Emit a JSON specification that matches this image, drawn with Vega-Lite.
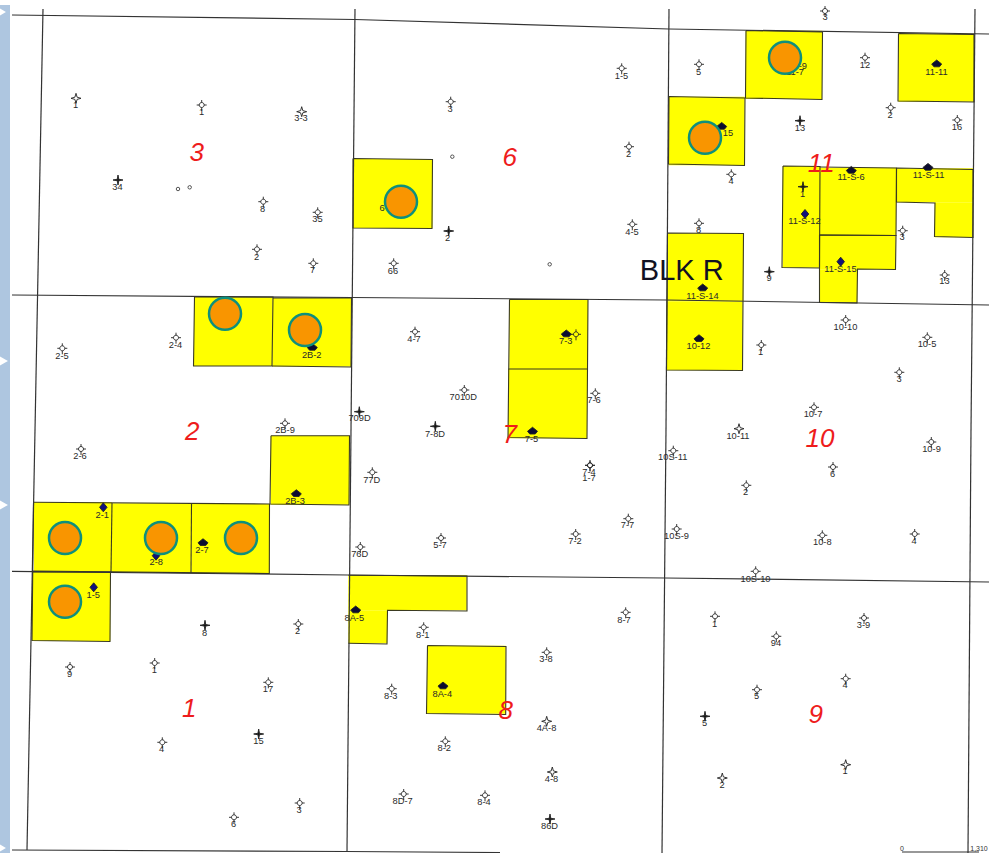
{
"$schema":"https://vega.github.io/schema/vega-lite/v6.json",
"width":994,"height":853,"padding":0,"autosize":{"type":"none"},
"background":"white",
"config":{"view":{"stroke":null},"axis":{"disable":true}},
"datasets":{
"fills":[
{"x":353,"y":159,"x2":432.5,"y2":228},{"x":194,"y":297,"x2":272.5,"y2":366},{"x":272.5,"y":298,"x2":351,"y2":366.5},
{"x":745.7,"y":30.7,"x2":822,"y2":99},{"x":898.3,"y":33.7,"x2":974,"y2":101.7},{"x":668.7,"y":96.7,"x2":744.7,"y2":165.3},
{"x":782.7,"y":166,"x2":820,"y2":267.7},{"x":820,"y":167.7,"x2":896,"y2":235.3},{"x":819.3,"y":235,"x2":895.7,"y2":269.3},{"x":819.3,"y":269.3,"x2":857.3,"y2":302.7},
{"x":896.7,"y":168.3,"x2":973,"y2":202.3},{"x":934.7,"y":202.3,"x2":973,"y2":237.3},
{"x":667,"y":233.3,"x2":743.3,"y2":301.7},{"x":666.7,"y":301.7,"x2":742.7,"y2":370.3},
{"x":509.3,"y":299.3,"x2":588,"y2":369},{"x":508,"y":369,"x2":587,"y2":438.3},
{"x":270.7,"y":435.7,"x2":349.3,"y2":504.7},{"x":34,"y":502.3,"x2":112,"y2":571.3},{"x":112,"y":503.3,"x2":191.3,"y2":572.7},{"x":191.3,"y":504,"x2":269.3,"y2":573.3},
{"x":32,"y":572,"x2":110.3,"y2":641},{"x":348.3,"y":575.3,"x2":466.7,"y2":610.3},{"x":348.3,"y":610.3,"x2":387.3,"y2":643.3},{"x":427,"y":645.7,"x2":505.7,"y2":713.7}
],
"outlines":[
{"s":"a","o":1,"x":353,"y":158.5},{"s":"a","o":2,"x":432.5,"y":159.5},{"s":"a","o":3,"x":432,"y":228.5},{"s":"a","o":4,"x":353,"y":228},{"s":"a","o":5,"x":353,"y":158.5},
{"s":"b","o":1,"x":194.5,"y":297},{"s":"b","o":2,"x":273,"y":297},{"s":"b","o":3,"x":272,"y":366},{"s":"b","o":4,"x":193.5,"y":366},{"s":"b","o":5,"x":194.5,"y":297},
{"s":"c","o":1,"x":273,"y":298},{"s":"c","o":2,"x":351.5,"y":298},{"s":"c","o":3,"x":351,"y":367},{"s":"c","o":4,"x":272,"y":366},
{"s":"d","o":1,"x":746,"y":30.5},{"s":"d","o":2,"x":822.5,"y":32},{"s":"d","o":3,"x":822,"y":99.5},{"s":"d","o":4,"x":745.5,"y":98},{"s":"d","o":5,"x":746,"y":30.5},
{"s":"e","o":1,"x":898.5,"y":33.5},{"s":"e","o":2,"x":974,"y":34.5},{"s":"e","o":3,"x":974,"y":102},{"s":"e","o":4,"x":898,"y":101},{"s":"e","o":5,"x":898.5,"y":33.5},
{"s":"f","o":1,"x":669,"y":96.5},{"s":"f","o":2,"x":745,"y":98},{"s":"f","o":3,"x":744.5,"y":165.5},{"s":"f","o":4,"x":668.5,"y":164},{"s":"f","o":5,"x":669,"y":96.5},
{"s":"g","o":1,"x":783,"y":166},{"s":"g","o":2,"x":820,"y":166.5},{"s":"g","o":3,"x":819.5,"y":268},{"s":"g","o":4,"x":782,"y":267.5},{"s":"g","o":5,"x":783,"y":166},
{"s":"h","o":1,"x":820,"y":167},{"s":"h","o":2,"x":896.5,"y":168},{"s":"h","o":3,"x":896,"y":235.5},{"s":"h","o":4,"x":819.5,"y":235},
{"s":"i","o":1,"x":819.5,"y":235},{"s":"i","o":2,"x":896,"y":235.5},{"s":"i","o":3,"x":895.5,"y":269.5},{"s":"i","o":4,"x":857.5,"y":269},{"s":"i","o":5,"x":857,"y":303},{"s":"i","o":6,"x":819.5,"y":302.5},{"s":"i","o":7,"x":819.5,"y":235},
{"s":"j","o":1,"x":896.5,"y":168},{"s":"j","o":2,"x":973,"y":169.5},{"s":"j","o":3,"x":973,"y":237.5},{"s":"j","o":4,"x":934.5,"y":236.5},{"s":"j","o":5,"x":935,"y":203},{"s":"j","o":6,"x":896.5,"y":202},{"s":"j","o":7,"x":896.5,"y":168},
{"s":"k","o":1,"x":667.5,"y":233},{"s":"k","o":2,"x":743.5,"y":233.5},{"s":"k","o":3,"x":742.5,"y":370.5},{"s":"k","o":4,"x":666.5,"y":370},{"s":"k","o":5,"x":667.5,"y":233},
{"s":"m","o":1,"x":509.5,"y":299.5},{"s":"m","o":2,"x":588,"y":299.5},{"s":"m","o":3,"x":587,"y":438.5},{"s":"m","o":4,"x":508,"y":437.5},{"s":"m","o":5,"x":509.5,"y":299.5},
{"s":"n","o":1,"x":508.5,"y":369},{"s":"n","o":2,"x":587.5,"y":369},
{"s":"p","o":1,"x":271,"y":435.7},{"s":"p","o":2,"x":349.5,"y":435.7},{"s":"p","o":3,"x":349,"y":505},{"s":"p","o":4,"x":270,"y":504},{"s":"p","o":5,"x":271,"y":435.7},
{"s":"q","o":1,"x":34,"y":502.3},{"s":"q","o":2,"x":269.5,"y":504},{"s":"q","o":3,"x":269.3,"y":573.5},{"s":"q","o":4,"x":32,"y":571},
{"s":"q2","o":1,"x":112,"y":503},{"s":"q2","o":2,"x":111,"y":572},{"s":"q3","o":1,"x":191.5,"y":504},{"s":"q3","o":2,"x":191,"y":573},
{"s":"r","o":1,"x":32.5,"y":572},{"s":"r","o":2,"x":110.5,"y":572},{"s":"r","o":3,"x":110,"y":641.5},{"s":"r","o":4,"x":32,"y":640.5},{"s":"r","o":5,"x":33.5,"y":502.5},
{"s":"t","o":1,"x":348.5,"y":575.3},{"s":"t","o":2,"x":467,"y":576},{"s":"t","o":3,"x":467,"y":611},{"s":"t","o":4,"x":387.5,"y":610.3},{"s":"t","o":5,"x":387,"y":644},{"s":"t","o":6,"x":348.3,"y":643.3},
{"s":"u","o":1,"x":427.5,"y":645.5},{"s":"u","o":2,"x":506,"y":646.5},{"s":"u","o":3,"x":505.7,"y":714.5},{"s":"u","o":4,"x":426.5,"y":713.5},{"s":"u","o":5,"x":427.5,"y":645.5}
],
"gridlines":[
{"x":12,"y":15,"x2":355,"y2":19.5},{"x":355,"y":19.5,"x2":669,"y2":29},{"x":669,"y":29,"x2":989,"y2":34},
{"x":12,"y":295,"x2":352,"y2":297.5},{"x":352,"y":297.5,"x2":666,"y2":300},{"x":666,"y":300,"x2":989,"y2":305},
{"x":12,"y":571.3,"x2":348,"y2":575},{"x":348,"y":575,"x2":665,"y2":578},{"x":665,"y":578,"x2":989,"y2":582},
{"x":12,"y":850,"x2":347,"y2":851.5},{"x":347,"y":851.5,"x2":500,"y2":852.5},
{"x":43,"y":9,"x2":35,"y2":430},{"x":35,"y":430,"x2":27,"y2":850},
{"x":355,"y":9,"x2":351,"y2":430},{"x":351,"y":430,"x2":347,"y2":851},
{"x":669,"y":9,"x2":666,"y2":430},{"x":666,"y":430,"x2":662,"y2":853},
{"x":975,"y":9,"x2":971,"y2":430},{"x":971,"y":430,"x2":968,"y2":853},
{"x":902,"y":852,"x2":979,"y2":852}
],
"tiny":[{"x":178,"y":189},{"x":189.7,"y":187.3},{"x":452.3,"y":156.7},{"x":549.7,"y":264.3}],
"band":[{"x":0,"x2":10,"y":5,"y2":853}],
"notches":[{"x":3,"y":361},{"x":3,"y":505},{"x":1,"y":12},{"x":1,"y":848}],
"circles":[
{"x":225,"y":313.7},{"x":401,"y":201.7},{"x":305,"y":330},{"x":785,"y":57.7},{"x":705,"y":137.7},
{"x":65,"y":538},{"x":161,"y":538},{"x":241,"y":538},{"x":65,"y":601.7}
],
"sections":[
{"x":196.7,"y":153.3,"t":"3"},{"x":509.7,"y":158.3,"t":"6"},{"x":821.3,"y":163.7,"t":"11"},{"x":192.3,"y":432,"t":"2"},{"x":509.7,"y":434.7,"t":"7"},
{"x":820,"y":438.7,"t":"10"},{"x":189.3,"y":709,"t":"1"},{"x":505.7,"y":711.3,"t":"8"},{"x":815.7,"y":715.3,"t":"9"}
],
"block":[{"x":681.7,"y":270.7,"t":"BLK R"}],
"scale":[{"x":902,"y":848.5,"t":"0"},{"x":979,"y":848.5,"t":"1,310"}],
"wells":[
{"k":"star","x":76,"y":98.3,"t":"1","lx":75.5,"ly":105},
{"k":"open","x":201.7,"y":105,"t":"1","lx":201.5,"ly":112},
{"k":"star","x":301.7,"y":111.7,"t":"3-3","lx":301,"ly":118},
{"k":"plus","x":118,"y":180,"t":"34","lx":117.5,"ly":186.7},
{"k":"open","x":263.3,"y":201.7,"t":"8","lx":262.5,"ly":208.5},
{"k":"open","x":317.7,"y":212.3,"t":"35","lx":317.5,"ly":219},
{"k":"open","x":257,"y":249.3,"t":"2","lx":256.5,"ly":256.5},
{"k":"open","x":313.3,"y":263.3,"t":"7","lx":312.5,"ly":270},
{"k":"open","x":450.7,"y":101.7,"t":"3","lx":450,"ly":109},
{"k":"plus","x":448.7,"y":231,"t":"2","lx":447.5,"ly":238},
{"k":"open","x":393.7,"y":263.3,"t":"66","lx":393,"ly":270.5},
{"k":"open","x":401,"y":201,"t":"6","lx":382,"ly":208.3},
{"k":"open","x":785,"y":58,"t":"11-9","lx":798,"ly":66},
{"k":"open","x":785,"y":58,"t":"11-7","lx":795,"ly":71.7},
{"k":"open","x":621.7,"y":68.3,"t":"1-5","lx":621.5,"ly":75.7},
{"k":"open","x":699,"y":64.3,"t":"5","lx":698.5,"ly":71.7},
{"k":"open","x":825,"y":11,"t":"3","lx":825,"ly":16.7},
{"k":"open","x":865,"y":57.7,"t":"12","lx":865,"ly":65},
{"k":"blob","x":936.7,"y":64.3,"t":"11-11","lx":936.5,"ly":71.7},
{"k":"open","x":890.7,"y":107.7,"t":"2","lx":890,"ly":115},
{"k":"open","x":957.3,"y":120,"t":"16","lx":957,"ly":127},
{"k":"plus","x":800,"y":120.7,"t":"13","lx":800,"ly":128},
{"k":"blob","x":721.7,"y":126.7,"t":"15","lx":728,"ly":133.3},
{"k":"open","x":629,"y":146.7,"t":"2","lx":628.5,"ly":154},
{"k":"open","x":731.3,"y":174.3,"t":"4","lx":731,"ly":181},
{"k":"blob","x":851.3,"y":170.7,"t":"11-S-6","lx":851,"ly":177.3},
{"k":"blob","x":928,"y":167.7,"t":"11-S-11","lx":928.5,"ly":174.7},
{"k":"plus","x":803,"y":186.7,"t":"1","lx":802.5,"ly":194},
{"k":"diamond","x":805,"y":214,"t":"11-S-12","lx":804.5,"ly":221.3},
{"k":"open","x":902.7,"y":230.7,"t":"3","lx":902,"ly":237},
{"k":"open","x":699,"y":223.3,"t":"8","lx":698.5,"ly":230},
{"k":"open","x":632.3,"y":224.3,"t":"4-5","lx":632,"ly":231.7},
{"k":"plus","x":769.3,"y":271.7,"t":"9","lx":769,"ly":278},
{"k":"open","x":944.7,"y":275,"t":"13","lx":944.5,"ly":281},
{"k":"diamond","x":840.7,"y":261.7,"t":"11-S-15","lx":840.5,"ly":269.3},
{"k":"blob","x":702.7,"y":288.3,"t":"11-S-14","lx":702.5,"ly":295.7},
{"k":"open","x":845.7,"y":320,"t":"10-10","lx":845.5,"ly":327},
{"k":"open","x":927.3,"y":337.3,"t":"10-5","lx":927,"ly":344},
{"k":"blob","x":566.3,"y":334.3,"t":"7-3","lx":565.7,"ly":341.3},
{"k":"open","x":576,"y":334.3,"t":"","lx":576,"ly":341},
{"k":"blob","x":699,"y":339,"t":"10-12","lx":698.5,"ly":346},
{"k":"open","x":761.3,"y":345,"t":"1","lx":760.5,"ly":352},
{"k":"open","x":899.3,"y":372.3,"t":"3","lx":899,"ly":379},
{"k":"open","x":595.3,"y":393.3,"t":"7-6","lx":594,"ly":400},
{"k":"open","x":814,"y":407.3,"t":"10-7","lx":813,"ly":414.3},
{"k":"star","x":739,"y":428.7,"t":"10-11","lx":738,"ly":435.7},
{"k":"open","x":931.3,"y":442,"t":"10-9","lx":931.5,"ly":449},
{"k":"open","x":673.3,"y":450.7,"t":"10S-11","lx":672.7,"ly":457.3},
{"k":"open","x":833,"y":467,"t":"6","lx":832.5,"ly":474},
{"k":"blob","x":532.5,"y":431.5,"t":"7-5","lx":531.5,"ly":439},
{"k":"open","x":590,"y":465.3,"t":"7-4","lx":589,"ly":472},
{"k":"open","x":590,"y":465.3,"t":"1-7","lx":589,"ly":478},
{"k":"open","x":746.3,"y":485.3,"t":"2","lx":745.5,"ly":492},
{"k":"open","x":628.3,"y":518.7,"t":"7-7","lx":627.5,"ly":525},
{"k":"open","x":676.7,"y":529,"t":"10S-9","lx":676.5,"ly":535.7},
{"k":"open","x":575.7,"y":534,"t":"7-2","lx":575,"ly":541},
{"k":"open","x":822.3,"y":535.3,"t":"10-8","lx":822.3,"ly":542},
{"k":"open","x":914.7,"y":534,"t":"4","lx":914,"ly":541},
{"k":"open","x":755.7,"y":571.3,"t":"10S-10","lx":755.5,"ly":578.7},
{"k":"open","x":625.7,"y":612.3,"t":"8-7","lx":624,"ly":619.7},
{"k":"open","x":715,"y":616.3,"t":"1","lx":714.5,"ly":624},
{"k":"open","x":864,"y":618,"t":"3-9","lx":863.5,"ly":625},
{"k":"open","x":776.3,"y":636.3,"t":"94","lx":776,"ly":643},
{"k":"open","x":546.7,"y":652.3,"t":"3-8","lx":546,"ly":659.3},
{"k":"open","x":845.7,"y":678.7,"t":"4","lx":845,"ly":685},
{"k":"open","x":757,"y":689.7,"t":"5","lx":756.5,"ly":696},
{"k":"plus","x":705,"y":716.3,"t":"5","lx":704.5,"ly":723},
{"k":"star","x":546.7,"y":721.3,"t":"4A-8","lx":546.5,"ly":728},
{"k":"star","x":552.3,"y":772,"t":"4-8","lx":551.5,"ly":779},
{"k":"star","x":845.7,"y":764.7,"t":"1","lx":845,"ly":771.3},
{"k":"star","x":722.3,"y":778,"t":"2","lx":722,"ly":785},
{"k":"plus","x":550,"y":819,"t":"86D","lx":549.5,"ly":826},
{"k":"open","x":285,"y":423.3,"t":"2B-9","lx":285,"ly":429.7},
{"k":"open","x":62.3,"y":348.3,"t":"2-5","lx":62,"ly":355.7},
{"k":"open","x":176,"y":337.7,"t":"2-4","lx":175.5,"ly":345},
{"k":"blob","x":312.3,"y":347.7,"t":"2B-2","lx":311.7,"ly":355},
{"k":"open","x":415,"y":331.7,"t":"4-7","lx":414,"ly":339},
{"k":"open","x":464.3,"y":390,"t":"7010D","lx":463.3,"ly":397.3},
{"k":"plus","x":359.3,"y":411.7,"t":"709D","lx":359.5,"ly":418.3},
{"k":"plus","x":435.3,"y":426.3,"t":"7-8D","lx":435,"ly":433.7},
{"k":"open","x":81,"y":449,"t":"2-6","lx":80,"ly":456.3},
{"k":"open","x":372.3,"y":472.3,"t":"77D","lx":371.7,"ly":479.7},
{"k":"blob","x":296.3,"y":494,"t":"2B-3","lx":295,"ly":500.7},
{"k":"diamond","x":103.3,"y":507.3,"t":"2-1","lx":102.3,"ly":514.7},
{"k":"open","x":441,"y":538,"t":"5-7","lx":440,"ly":545.3},
{"k":"blob","x":203,"y":543,"t":"2-7","lx":202,"ly":550},
{"k":"diamond","x":156,"y":555.7,"t":"2-8","lx":156.3,"ly":562.3},
{"k":"open","x":360.3,"y":547,"t":"76D","lx":359.7,"ly":554},
{"k":"diamond","x":93.7,"y":587.3,"t":"1-5","lx":93.3,"ly":594.7},
{"k":"blob","x":355.7,"y":610.3,"t":"8A-5","lx":354.3,"ly":617.7},
{"k":"plus","x":205,"y":625.3,"t":"8","lx":204.5,"ly":632.5},
{"k":"open","x":298.3,"y":624,"t":"2","lx":297.7,"ly":631},
{"k":"open","x":423.7,"y":627.3,"t":"8-1","lx":422.7,"ly":634.7},
{"k":"open","x":70,"y":667,"t":"9","lx":69.5,"ly":674},
{"k":"open","x":154.7,"y":663,"t":"1","lx":154.3,"ly":670},
{"k":"open","x":268.3,"y":682.3,"t":"17","lx":268,"ly":689},
{"k":"open","x":391.7,"y":688.7,"t":"8-3","lx":390.7,"ly":695.7},
{"k":"blob","x":443,"y":686.3,"t":"8A-4","lx":442.3,"ly":693.7},
{"k":"plus","x":258.7,"y":734,"t":"15","lx":258.5,"ly":741},
{"k":"open","x":162.3,"y":742.3,"t":"4","lx":161.7,"ly":749},
{"k":"open","x":445.3,"y":741.3,"t":"8-2","lx":444.3,"ly":748},
{"k":"open","x":403.7,"y":794,"t":"8D-7","lx":402.7,"ly":801.3},
{"k":"open","x":485,"y":795.3,"t":"8-4","lx":484,"ly":802.3},
{"k":"open","x":299.7,"y":803,"t":"3","lx":299,"ly":810},
{"k":"open","x":234,"y":817.3,"t":"6","lx":233.5,"ly":824}
]
},
"encoding":{
"x":{"field":"x","type":"quantitative","scale":{"domain":[0,994],"nice":false,"zero":false},"axis":null},
"y":{"field":"y","type":"quantitative","scale":{"domain":[853,0],"nice":false,"zero":false},"axis":null}
},
"layer":[
{"data":{"name":"band"},"mark":{"type":"rect","fill":"#aec6e0","stroke":null},"encoding":{"x2":{"field":"x2"},"y2":{"field":"y2"}}},
{"data":{"name":"notches"},"mark":{"type":"point","shape":"triangle-right","filled":true,"fill":"white","stroke":null,"opacity":1,"size":130}},
{"data":{"name":"fills"},"mark":{"type":"rect","fill":"#ffff00","stroke":null},"encoding":{"x2":{"field":"x2"},"y2":{"field":"y2"}}},
{"data":{"name":"outlines"},"mark":{"type":"line","color":"#3a3a20","strokeWidth":1.1},"encoding":{"detail":{"field":"s"},"order":{"field":"o","type":"quantitative"}}},
{"data":{"name":"gridlines"},"mark":{"type":"rule","color":"#333333","strokeWidth":1.2},"encoding":{"x2":{"field":"x2"},"y2":{"field":"y2"}}},
{"data":{"name":"tiny"},"mark":{"type":"point","shape":"circle","filled":false,"stroke":"#444","strokeWidth":0.9,"opacity":1,"size":12}},
{"data":{"name":"wells"},"mark":{"type":"point","filled":true,"stroke":"#222","strokeWidth":0.9,"opacity":1,"size":100},
"encoding":{
"shape":{"field":"k","legend":null,"scale":{"domain":["open","star","plus","blob","diamond"],"range":[
"M-1,0L-.5,0M.5,0L1,0M0,-1L0,-.5M0,.5L0,1.2M.5,0A.5,.5 0 1 1 -.5,0A.5,.5 0 1 1 .5,0Z",
"M0,-1L.22,-.22L1,0L.22,.22L0,1L-.22,.22L-1,0L-.22,-.22Z",
"M0,-1L.15,-.15L1,0L.15,.15L0,1L-.15,.15L-1,0L-.15,-.15Z",
"M0,-.85L1,-.05L.55,.5L-.55,.5L-1,-.05Z",
"M0,-.9L.75,0L0,.9L-.75,0Z"]}},
"fill":{"field":"k","legend":null,"scale":{"domain":["open","star","plus","blob","diamond"],"range":["transparent","white","#111111","#0c0c30","#10107a"]}}
}},
{"data":{"name":"wells"},"mark":{"type":"text","font":"Liberation Sans","fontSize":9.3,"fill":"#2a2a2a","align":"center","baseline":"middle"},
"encoding":{"x":{"field":"lx","type":"quantitative","axis":null},"y":{"field":"ly","type":"quantitative","axis":null},"text":{"field":"t"}}},
{"data":{"name":"circles"},"mark":{"type":"point","shape":"circle","filled":true,"fill":"#f99500","stroke":"#0e8f7c","strokeWidth":2.5,"opacity":1,"size":1024}},
{"data":{"name":"sections"},"mark":{"type":"text","font":"Liberation Sans","fontStyle":"italic","fontSize":26,"fill":"#ee1c1c","align":"center","baseline":"middle"},"encoding":{"text":{"field":"t"}}},
{"data":{"name":"block"},"mark":{"type":"text","font":"Liberation Sans","fontSize":29,"fill":"#111122","align":"center","baseline":"middle"},"encoding":{"text":{"field":"t"}}},
{"data":{"name":"scale"},"mark":{"type":"text","font":"Liberation Sans","fontSize":7,"fill":"#333","align":"center","baseline":"middle"},"encoding":{"text":{"field":"t"}}}
]
}
